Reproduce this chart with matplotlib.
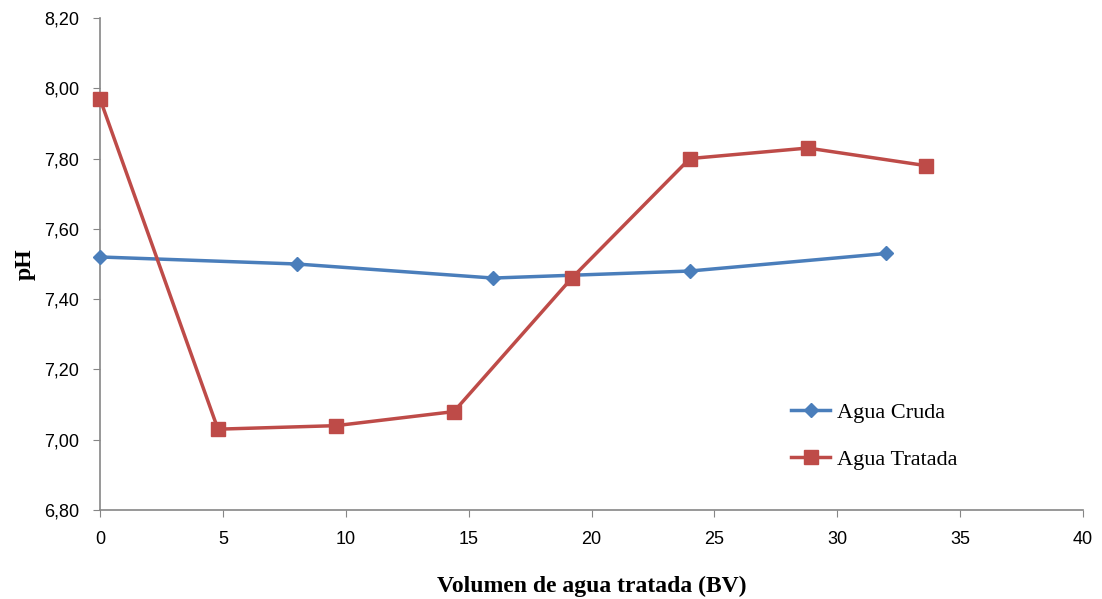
import matplotlib
matplotlib.use("Agg")
import matplotlib.pyplot as plt

# Data
bv_cruda = [0, 8, 16, 24, 32]
ph_cruda = [7.52, 7.50, 7.46, 7.48, 7.53]
bv_tratada = [0, 4.8, 9.6, 14.4, 19.2, 24, 28.8, 33.6]
ph_tratada = [7.97, 7.03, 7.04, 7.08, 7.46, 7.80, 7.83, 7.78]

x_ticks = [0, 5, 10, 15, 20, 25, 30, 35, 40]
y_ticks = [6.80, 7.00, 7.20, 7.40, 7.60, 7.80, 8.00, 8.20]

BLUE = "#4a7ebb"
RED = "#be4b48"
GRAY = "#868686"

fig = plt.figure(figsize=(11.02, 5.99), dpi=100)
ax = fig.add_axes([100 / 1102, 1 - 510 / 599, 983 / 1102, 492 / 599])

ax.plot(bv_cruda, ph_cruda, color=BLUE, marker="D", markersize=7,
        linewidth=2.5, label="Agua Cruda", clip_on=False, zorder=3)
ax.plot(bv_tratada, ph_tratada, color=RED, marker="s", markersize=10,
        linewidth=2.5, label="Agua Tratada", clip_on=False, zorder=3)

ax.set_xlim(0, 40)
ax.set_ylim(6.8, 8.2)
ax.set_xticks(x_ticks)
ax.set_yticks(y_ticks)
ax.set_yticklabels([f"{v:.2f}".replace(".", ",") for v in y_ticks])

for side in ("top", "right"):
    ax.spines[side].set_visible(False)
for side in ("left", "bottom"):
    ax.spines[side].set_color(GRAY)
    ax.spines[side].set_linewidth(1.2)
ax.tick_params(axis="both", direction="out", length=5, color=GRAY,
               labelsize=13, pad=10)
for lab in ax.get_xticklabels() + ax.get_yticklabels():
    lab.set_family("Liberation Sans")

ax.set_xlabel("Volumen de agua tratada (BV)", family="Liberation Serif",
              fontweight="bold", fontsize=17, labelpad=20)
ax.set_ylabel("pH", family="Liberation Serif", fontweight="bold",
              fontsize=17, labelpad=6)

ax.legend(loc="upper left", bbox_to_anchor=(0.683, 0.26), frameon=False,
          prop={"family": "Liberation Serif", "size": 16},
          handlelength=1.75, labelspacing=1.2, handletextpad=0.3)

fig.savefig("out.png", dpi=100)
